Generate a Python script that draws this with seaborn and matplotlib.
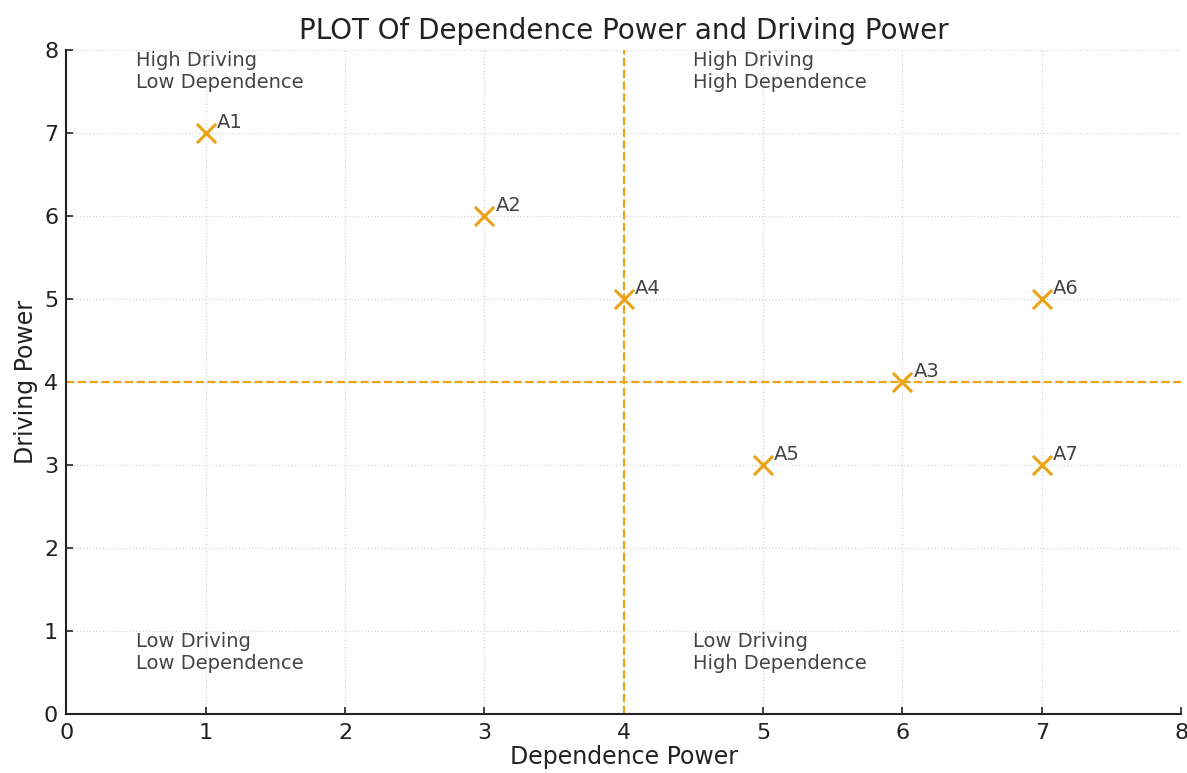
import matplotlib
matplotlib.use("Agg")
import matplotlib.pyplot as plt
import seaborn as sns
import pandas as pd

labels = ["A1", "A2", "A3", "A4", "A5", "A6", "A7"]
dependence = [1, 3, 6, 4, 5, 7, 7]
driving = [7, 6, 4, 5, 3, 5, 3]

quad_text = ["High Driving\nLow Dependence", "High Driving\nHigh Dependence",
             "Low Driving\nLow Dependence", "Low Driving\nHigh Dependence"]
quad_x = [0.5, 4.5, 0.5, 4.5]
quad_y = [7.5, 7.5, 0.5, 0.5]

color = "#E8A317"

sns.set_theme(style="white")
plt.rcParams['font.family'] = ['DejaVu Sans']

df = pd.DataFrame({"Dependence Power": dependence, "Driving Power": driving, "label": labels})

fig, ax = plt.subplots(figsize=(11.87, 7.73), dpi=100)
fig.subplots_adjust(left=0.056, right=0.995, top=0.935, bottom=0.076)

ax.axvline(4, color=color, linestyle="--", linewidth=1.6, zorder=1)
ax.axhline(4, color=color, linestyle="--", linewidth=1.6, zorder=1)

sns.scatterplot(data=df, x="Dependence Power", y="Driving Power", marker="x",
                s=190, color=color, linewidth=2.2, ax=ax, zorder=3)

for l, x, y in zip(labels, dependence, driving):
    ax.annotate(l, (x, y), xytext=(8, 4), textcoords="offset points",
                fontsize=14, color="#444444")

for t, x, y in zip(quad_text, quad_x, quad_y):
    ax.text(x, y, t, fontsize=14, color="#444444", ha="left", va="bottom")

ax.set_xlim(0, 8)
ax.set_ylim(0, 8)
ax.set_xticks(range(0, 9))
ax.set_yticks(range(0, 9))
ax.grid(True, linestyle=":", color="#d5d5d5", linewidth=0.9)
ax.tick_params(axis="both", direction="in", length=5, width=1.2, labelsize=16,
               colors="#222222", left=True, bottom=True, pad=6)
for s in ["top", "right"]:
    ax.spines[s].set_visible(False)
for s in ["left", "bottom"]:
    ax.spines[s].set_color("#222222")
    ax.spines[s].set_linewidth(1.5)

ax.set_xlabel("Dependence Power", fontsize=17, color="#222222", labelpad=2)
ax.set_ylabel("Driving Power", fontsize=17, color="#222222", labelpad=4)
ax.set_title("PLOT Of Dependence Power and Driving Power", fontsize=20, color="#222222", pad=8)

fig.savefig("out.png", dpi=100)
